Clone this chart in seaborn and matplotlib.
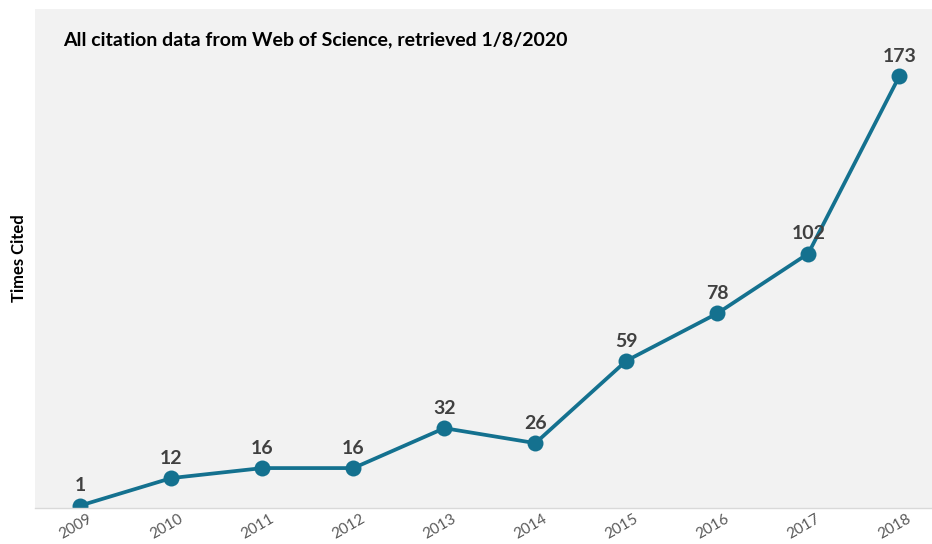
import pandas as pd
import matplotlib
matplotlib.use("Agg")
import matplotlib.pyplot as plt
import matplotlib.transforms as mtransforms
import seaborn as sns

years = [2009, 2010, 2011, 2012, 2013, 2014, 2015, 2016, 2017, 2018]
cites = [1, 12, 16, 16, 32, 26, 59, 78, 102, 173]
title_text = "All citation data from Web of Science, retrieved 1/8/2020"
y_label = "Times Cited"

df = pd.DataFrame({"year": years, "cites": cites})

sns.set_style("white")
plt.rcParams['font.family'] = ['Lato', 'DejaVu Sans']

line_col = "#14718f"

fig = plt.figure(figsize=(9.32, 5.44), dpi=100)
ax = fig.add_axes([35 / 932, 1 - 508 / 544, 897 / 932, 499 / 544])
ax.set_facecolor("#f2f2f2")

sns.lineplot(data=df, x="year", y="cites", ax=ax, color=line_col, lw=2.7,
             marker="o", markersize=11.5, markeredgewidth=0)

for x, y in zip(years, cites):
    ax.annotate(str(y), (x, y), xytext=(0, 8), textcoords="offset points",
                ha="center", va="bottom", fontsize=14, fontweight="bold",
                color="#404040")

ax.set_xlim(2008.5, 2018.36)
ax.set_ylim(0, 200)
ax.set_xticks(years)
ax.set_xticklabels([str(y) for y in years], rotation=30, ha="center",
                   fontsize=11, color="#595959")
ax.tick_params(axis="x", length=0, pad=3)
shift = mtransforms.ScaledTranslation(-5 / 100, 0, fig.dpi_scale_trans)
for lbl in ax.get_xticklabels():
    lbl.set_transform(lbl.get_transform() + shift)
ax.set_yticks([])
ax.set_xlabel("")
ax.set_ylabel(y_label, fontsize=12, fontweight="bold", color="black", labelpad=6)

for s in ["top", "right", "left"]:
    ax.spines[s].set_visible(False)
ax.spines["bottom"].set_color("#d9d9d9")
ax.spines["bottom"].set_linewidth(1)

ax.text(0.031, 0.955, title_text, transform=ax.transAxes, ha="left", va="top",
        fontsize=14, fontweight="bold", color="black")

fig.savefig("out.png", dpi=100)
